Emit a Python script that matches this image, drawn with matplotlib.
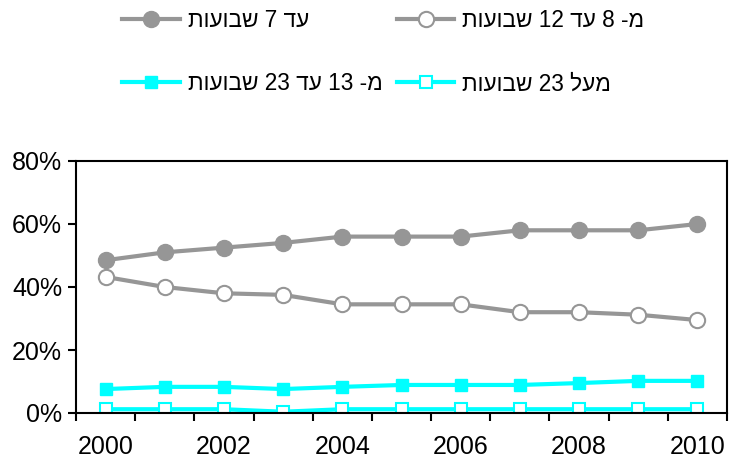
import numpy as np
import matplotlib
matplotlib.use("Agg")
import matplotlib.pyplot as plt
from matplotlib.ticker import FuncFormatter

plt.rcParams['font.family'] = ['Liberation Sans', 'DejaVu Sans']

years = [2000, 2001, 2002, 2003, 2004, 2005, 2006, 2007, 2008, 2009, 2010]

# shares in percent
upto7 = [48.5, 51, 52.5, 54, 56, 56, 56, 58, 58, 58, 60]
w8_12 = [43.2, 40, 38, 37.5, 34.5, 34.5, 34.5, 32, 32, 31.2, 29.5]
w13_23 = [7.6, 8.3, 8.3, 7.6, 8.3, 8.9, 8.9, 8.9, 9.5, 10.2, 10.2]
over23 = [1.2, 1.2, 1.2, 0.4, 1.2, 1.2, 1.2, 1.2, 1.2, 1.2, 1.2]

# hebrew labels written in visual (left-to-right) order
lbl_upto7 = "תועובש 7 דע"
lbl_8_12 = "תועובש 12 דע 8 -מ"
lbl_13_23 = "תועובש 23 דע 13 -מ"
lbl_over23 = "תועובש 23 לעמ"

gray = '#969696'
cyan = '#00FFFF'

fig = plt.figure(figsize=(7.39, 4.62), dpi=100)
ax = fig.add_axes([76/739, 1-413/462, (727-76)/739, (413-161)/462])

h1, = ax.plot(years, upto7, color=gray, lw=3, marker='o', ms=11.5,
              mfc=gray, mec=gray, label=lbl_upto7)
h2, = ax.plot(years, w8_12, color=gray, lw=3, marker='o', ms=11,
              mfc='white', mec=gray, mew=1.5, label=lbl_8_12)
h3, = ax.plot(years, w13_23, color=cyan, lw=3, marker='s', ms=9,
              mfc=cyan, mec=cyan, label=lbl_13_23)
h4, = ax.plot(years, over23, color=cyan, lw=3, marker='s', ms=8.5,
              mfc='white', mec=cyan, mew=1.5, label=lbl_over23)

ax.set_xlim(1999.5, 2010.5)
ax.set_ylim(0, 80)
ax.set_yticks([0, 20, 40, 60, 80])
ax.yaxis.set_major_formatter(FuncFormatter(lambda v, p: f"{int(v)}%"))
ax.set_xticks([2000, 2002, 2004, 2006, 2008, 2010])
ax.set_xticks(np.arange(1999.5, 2011, 1), minor=True)
ax.tick_params(axis='x', which='major', length=0, pad=16, labelsize=18)
ax.tick_params(axis='x', which='minor', length=6, width=1.5, direction='out')
ax.tick_params(axis='y', length=6, width=1.5, direction='out', labelsize=18, pad=4)

for s in ax.spines.values():
    s.set_linewidth(1.5)
    s.set_color('black')

fig.legend(handles=[h1, h3, h2, h4], ncol=2, loc='upper left',
           bbox_to_anchor=(120/739, 0.985), frameon=False, fontsize=16.3,
           handlelength=2.55, handletextpad=0.35, columnspacing=0.62,
           labelspacing=1.77, borderaxespad=0.0, borderpad=0.1)

fig.savefig('out.png', dpi=100)
